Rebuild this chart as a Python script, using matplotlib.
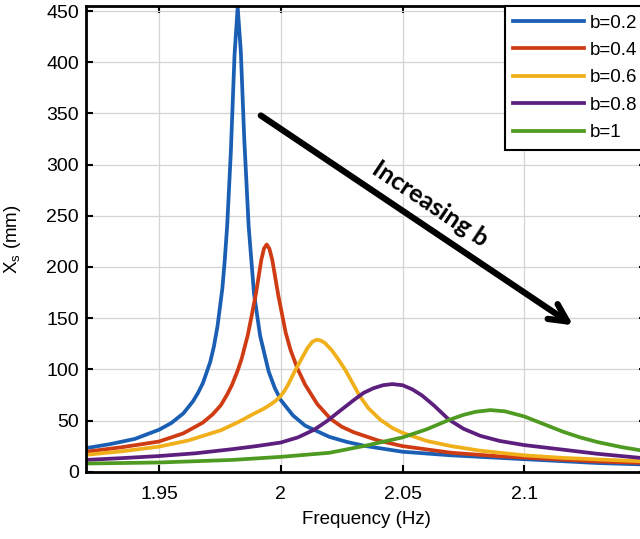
import numpy as np
import matplotlib.pyplot as plt

# amplitude response X_s (mm) vs excitation frequency (Hz) for each damping value b
freq_b02 = [1.92, 1.93, 1.94, 1.95, 1.955, 1.96, 1.964, 1.966, 1.968, 1.971, 1.9725, 1.974,
            1.976, 1.977, 1.978, 1.9795, 1.981, 1.9823, 1.9836, 1.985, 1.9868, 1.989, 1.9915,
            1.995, 1.9975, 2.0, 2.005, 2.01, 2.02, 2.0273, 2.035, 2.05, 2.07, 2.09, 2.11,
            2.13, 2.15]
xs_b02 = [23, 27, 32, 41, 47.5, 57, 69, 77, 86.5, 107, 122, 142,
          179, 207, 241, 313, 407, 454, 410, 325, 240, 174, 133,
          98, 82, 70, 55, 45, 34, 29, 25, 19.5, 16, 13.5, 11,
          8.5, 7]

freq_b04 = [1.92, 1.935, 1.95, 1.96, 1.968, 1.972, 1.9754, 1.978, 1.98, 1.9824, 1.984,
            1.9865, 1.988, 1.9898, 1.992, 1.9931, 1.9942, 1.9953, 1.9965, 1.999, 2.002,
            2.004, 2.0068, 2.01, 2.015, 2.0205, 2.025, 2.03, 2.04, 2.05, 2.07, 2.09, 2.11,
            2.13, 2.15]
xs_b04 = [19.5, 24, 29.5, 37.5, 48, 56, 65, 75.5, 85, 99.5, 111,
          134, 152, 174, 207, 218, 222, 218, 207, 172, 136,
          119, 101, 85, 66, 51.5, 44, 38.5, 30.5, 25, 18.5, 15, 12.5,
          10, 8.5]

freq_b06 = [1.92, 1.935, 1.95, 1.962, 1.9754, 1.983, 1.9892, 1.993, 1.996, 1.998, 2.0,
            2.0015, 2.003, 2.0055, 2.008, 2.011, 2.013, 2.0148, 2.0165, 2.018, 2.021, 2.024,
            2.0266, 2.0295, 2.0324, 2.036, 2.041, 2.046, 2.05, 2.06, 2.07, 2.082, 2.1, 2.116,
            2.13, 2.15]
xs_b06 = [16.5, 20, 24.5, 30.5, 40.5, 49, 57, 61.5, 66, 69.5, 74,
          79, 85, 97, 108, 121, 127, 129, 128, 126, 118.5, 108.5,
          99, 86.5, 74, 62, 50.5, 42.5, 38, 30, 25, 20.5, 16, 13.5,
          12, 10]

freq_b08 = [1.92, 1.935, 1.95, 1.965, 1.98, 1.99, 2.0, 2.007, 2.0137, 2.019, 2.0246, 2.03,
            2.034, 2.038, 2.042, 2.0458, 2.05, 2.054, 2.058, 2.063, 2.069, 2.075, 2.082,
            2.09, 2.1, 2.116, 2.13, 2.15]
xs_b08 = [11.5, 13.3, 15.3, 18, 22, 25, 28.5, 33.5, 41, 49.5, 60, 70,
          77, 81.5, 84.5, 85.6, 84.5, 80.5, 74.5, 64.5, 51, 42, 35,
          30, 26, 21.5, 17.5, 13]

freq_b1 = [1.92, 1.95, 1.98, 2.0, 2.02, 2.035, 2.05, 2.06, 2.069, 2.075, 2.08, 2.0861,
           2.092, 2.1, 2.108, 2.116, 2.123, 2.13, 2.14, 2.15]
xs_b1 = [8, 9, 11.5, 14.5, 18.5, 25.5, 33.5, 41.5, 50.5, 55.5, 58.5, 60.2,
         59, 54, 46.5, 39, 33.5, 29, 24, 20]

labels = ["b=0.2", "b=0.4", "b=0.6", "b=0.8", "b=1"]
colors = ["#1a5fb4", "#cf3b12", "#f0b01c", "#5c1f7e", "#4f9b22"]

x_ticks = [1.95, 2.0, 2.05, 2.1]
x_tick_labels = ["1.95", "2", "2.05", "2.1"]
y_ticks = list(range(0, 451, 50))

plt.rcParams['font.family'] = ['Liberation Sans', 'DejaVu Sans']

fig = plt.figure(figsize=(6.4, 5.39), dpi=100)
ax = fig.add_axes([86 / 640, 67.3 / 539, 560 / 640, 465.7 / 539])

all_freqs = [freq_b02, freq_b04, freq_b06, freq_b08, freq_b1]
all_xs = [xs_b02, xs_b04, xs_b06, xs_b08, xs_b1]
for freq, xs, lab, col in zip(all_freqs, all_xs, labels, colors):
    ax.plot(freq, xs, color=col, lw=2.7, label=lab, solid_joinstyle='round')

ax.set_xlim(1.92, 2.15)
ax.set_ylim(0, 455)
ax.set_xticks(x_ticks)
ax.set_xticklabels(x_tick_labels)
ax.set_yticks(y_ticks)
ax.grid(True, color="#d4d4d4", lw=0.9)
ax.set_axisbelow(True)

ax.tick_params(direction='in', length=5, width=1.5, top=True, right=True,
               labelsize=14, colors='black')
ax.tick_params(axis='x', pad=10)
ax.tick_params(axis='y', pad=5)
for sp in ax.spines.values():
    sp.set_linewidth(2)

ax.set_xlabel("Frequency (Hz)", fontsize=13.5)
ax.set_ylabel("X$_\\mathregular{s}$ (mm)", fontsize=13.5)
ax.xaxis.set_label_coords(0.5, -0.085)
ax.yaxis.set_label_coords(-0.112, 0.5)

# arrow showing the peak moving right and down as damping grows
ax.annotate("", xy=(2.1201, 143), xytext=(1.9918, 348),
            arrowprops=dict(arrowstyle='->', lw=4.5, color='black',
                            mutation_scale=32, shrinkA=0, shrinkB=0))
ax.text(2.0615, 262, "Increasing b", rotation=-33.9, rotation_mode='anchor',
        ha='center', va='center', fontsize=18, fontweight='bold', family='Lato')

leg = ax.legend(loc='upper right', bbox_to_anchor=(1.0, 1.0), borderaxespad=0,
                fontsize=13.5, frameon=True, fancybox=False, handlelength=3.8,
                handletextpad=0.3, labelspacing=0.55, borderpad=0.45)
leg.get_frame().set_edgecolor('black')
leg.get_frame().set_linewidth(1.5)
leg.get_frame().set_alpha(1)

fig.savefig("out.png", dpi=100)
